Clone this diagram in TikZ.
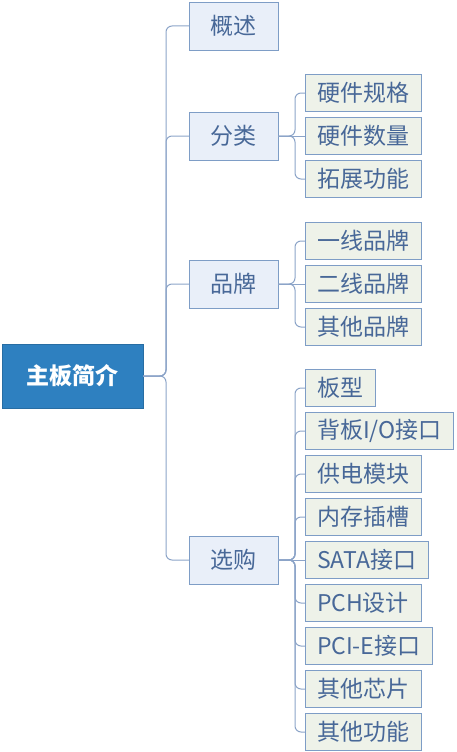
\documentclass[tikz,border=0pt]{standalone}
\usepackage{fontspec}
\setmainfont{Noto Sans CJK SC}
\usetikzlibrary{positioning}
\definecolor{rootblue}{RGB}{46,128,192}
\definecolor{topicfill}{RGB}{233,239,249}
\definecolor{subfill}{RGB}{238,242,233}
\definecolor{edgeblue}{RGB}{126,157,198}
\definecolor{textblue}{RGB}{72,104,152}
\definecolor{linkblue}{RGB}{140,164,200}

\begin{document}
\begin{tikzpicture}[
    x=1pt, y=-1pt,
    node distance=6pt,
    root/.style={fill=rootblue, draw=rootblue!85!black, text=white, font=\fontsize{23}{26}\selectfont\bfseries, minimum width=141pt, minimum height=64pt, inner sep=0pt, outer sep=0pt},
    topic/.style={draw=edgeblue, fill=topicfill, text=textblue, font=\fontsize{23}{26}\selectfont, minimum width=89pt, minimum height=48pt, inner sep=0pt, outer sep=0pt, line width=0.9pt, anchor=west},
    sub/.style={draw=edgeblue, fill=subfill, text=textblue, font=\fontsize{23}{26}\selectfont, minimum height=37pt, inner xsep=12pt, inner ysep=0pt, outer sep=0pt, line width=0.9pt},
    link/.style={draw=linkblue, line width=1pt, rounded corners=6pt}
]
    \useasboundingbox (0,0) rectangle (457,752);

    \node[root] (root) at (72.5,376) {主板简介};

    % first level
    \node[topic] (t1) at (189,26) {概述};
    \node[topic] (t2) at (189,136) {分类};
    \node[topic] (t3) at (189,284) {品牌};
    \node[topic] (t4) at (189,560) {选购};

    % second level
    \node[sub, anchor=west] (s21) at (305,93) {硬件规格};
    \node[sub, below=of s21.south west, anchor=north west] (s22) {硬件数量};
    \node[sub, below=of s22.south west, anchor=north west] (s23) {拓展功能};

    \node[sub, anchor=west] (s31) at (305,241) {一线品牌};
    \node[sub, below=of s31.south west, anchor=north west] (s32) {二线品牌};
    \node[sub, below=of s32.south west, anchor=north west] (s33) {其他品牌};

    \node[sub, anchor=west] (s41) at (305,388) {板型};
    \node[sub, below=of s41.south west, anchor=north west] (s42) {背板I/O接口};
    \node[sub, below=of s42.south west, anchor=north west] (s43) {供电模块};
    \node[sub, below=of s43.south west, anchor=north west] (s44) {内存插槽};
    \node[sub, below=of s44.south west, anchor=north west] (s45) {SATA接口};
    \node[sub, below=of s45.south west, anchor=north west] (s46) {PCH设计};
    \node[sub, below=of s46.south west, anchor=north west] (s47) {PCI-E接口};
    \node[sub, below=of s47.south west, anchor=north west] (s48) {其他芯片};
    \node[sub, below=of s48.south west, anchor=north west] (s49) {其他功能};

    \foreach \t in {t1,t2,t3,t4}
        \draw[link] (root.east) -- ++(23,0) |- (\t.west);
    % straight links where child sits level with parent
    \draw[link] (t2.east) -- (s22.west);
    \draw[link] (t3.east) -- (s32.west);
    \draw[link] (t4.east) -- (s45.west);
    \foreach \s in {s21,s23}
        \draw[link] (t2.east) -- ++(17,0) |- (\s.west);
    \foreach \s in {s31,s33}
        \draw[link] (t3.east) -- ++(17,0) |- (\s.west);
    \foreach \s in {s41,s42,s43,s44,s46,s47,s48,s49}
        \draw[link] (t4.east) -- ++(17,0) |- (\s.west);
\end{tikzpicture}
\end{document}
